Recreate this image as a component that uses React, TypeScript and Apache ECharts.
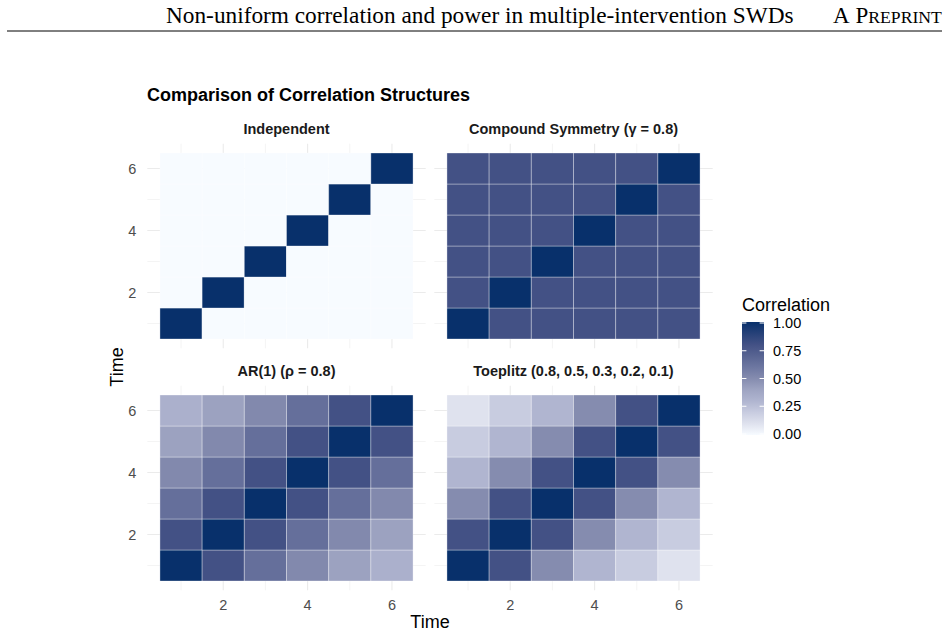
import React, { useEffect, useRef } from 'react';
import * as echarts from 'echarts';

// ---------- data ----------
const times = [1, 2, 3, 4, 5, 6];
const majorBreaks = [2, 4, 6];
const minorBreaks = [1, 3, 5];
const legendBreaks = [0, 0.25, 0.5, 0.75, 1];
const legendLabels = ['0.00', '0.25', '0.50', '0.75', '1.00'];

const panelTitles = [
  'Independent',
  'Compound Symmetry (γ = 0.8)',
  'AR(1) (ρ = 0.8)',
  'Toeplitz (0.8, 0.5, 0.3, 0.2, 0.1)',
];

// rows = time (y), columns = time (x)
const independent = [
  [1, 0, 0, 0, 0, 0],
  [0, 1, 0, 0, 0, 0],
  [0, 0, 1, 0, 0, 0],
  [0, 0, 0, 1, 0, 0],
  [0, 0, 0, 0, 1, 0],
  [0, 0, 0, 0, 0, 1],
];
const compoundSymmetry = [
  [1, 0.8, 0.8, 0.8, 0.8, 0.8],
  [0.8, 1, 0.8, 0.8, 0.8, 0.8],
  [0.8, 0.8, 1, 0.8, 0.8, 0.8],
  [0.8, 0.8, 0.8, 1, 0.8, 0.8],
  [0.8, 0.8, 0.8, 0.8, 1, 0.8],
  [0.8, 0.8, 0.8, 0.8, 0.8, 1],
];
const ar1 = [
  [1, 0.8, 0.64, 0.512, 0.41, 0.328],
  [0.8, 1, 0.8, 0.64, 0.512, 0.41],
  [0.64, 0.8, 1, 0.8, 0.64, 0.512],
  [0.512, 0.64, 0.8, 1, 0.8, 0.64],
  [0.41, 0.512, 0.64, 0.8, 1, 0.8],
  [0.328, 0.41, 0.512, 0.64, 0.8, 1],
];
const toeplitz = [
  [1, 0.8, 0.5, 0.3, 0.2, 0.1],
  [0.8, 1, 0.8, 0.5, 0.3, 0.2],
  [0.5, 0.8, 1, 0.8, 0.5, 0.3],
  [0.3, 0.5, 0.8, 1, 0.8, 0.5],
  [0.2, 0.3, 0.5, 0.8, 1, 0.8],
  [0.1, 0.2, 0.3, 0.5, 0.8, 1],
];
const matrices = [independent, compoundSymmetry, ar1, toeplitz];

// ---------- style ----------
const colorStops = [
  '#f7fbff', '#dfe2ee', '#c8cce0', '#b0b5d0', '#9ea4c2', '#858caf',
  '#6d77a1', '#586492', '#435185', '#264178', '#08306b',
];
const SANS = '"Liberation Sans", Arial, Helvetica, sans-serif';
const SERIF = '"Liberation Serif", "Times New Roman", serif';

const PW = 278.4;
const PH = 204.6;
const panelPos = [
  { left: 147.3, top: 143.7 },
  { left: 434.3, top: 143.7 },
  { left: 147.3, top: 385.7 },
  { left: 434.3, top: 385.7 },
];

function buildOption() {
  const grid: any[] = [];
  const xAxis: any[] = [];
  const yAxis: any[] = [];
  const series: any[] = [];
  const tileSeries: number[] = [];

  const gridData: number[][] = [];
  majorBreaks.forEach((v) => { gridData.push([v, 0, 1]); gridData.push([v, 1, 1]); });
  minorBreaks.forEach((v) => { gridData.push([v, 0, 0]); gridData.push([v, 1, 0]); });

  panelPos.forEach((p, k) => {
    grid.push({ left: p.left, top: p.top, width: PW, height: PH, containLabel: false });
    const bottomRow = k >= 2;
    const leftCol = k % 2 === 0;
    xAxis.push({
      type: 'value', gridIndex: k, min: 0.2, max: 6.8,
      axisLine: { show: false }, axisTick: { show: false }, splitLine: { show: false },
      axisLabel: {
        show: bottomRow, customValues: majorBreaks, margin: 7,
        color: '#4d4d4d', fontSize: 14.5, fontFamily: SANS,
      },
    });
    yAxis.push({
      type: 'value', gridIndex: k, min: 0.2, max: 6.8,
      axisLine: { show: false }, axisTick: { show: false }, splitLine: { show: false },
      axisLabel: {
        show: leftCol, customValues: majorBreaks, margin: 11,
        color: '#4d4d4d', fontSize: 14.5, fontFamily: SANS,
      },
    });
    series.push({
      type: 'custom', xAxisIndex: k, yAxisIndex: k, z: 1, silent: true,
      data: gridData,
      renderItem: (params: any, api: any) => {
        const v = api.value(0);
        const orient = api.value(1);
        const major = api.value(2);
        const cs = params.coordSys;
        const lw = major ? 1.1 : 0.55;
        if (orient === 0) {
          const px = api.coord([v, 1])[0];
          return { type: 'line', shape: { x1: px, y1: cs.y, x2: px, y2: cs.y + cs.height }, style: { stroke: '#ebebeb', lineWidth: lw } };
        }
        const py = api.coord([1, v])[1];
        return { type: 'line', shape: { x1: cs.x, y1: py, x2: cs.x + cs.width, y2: py }, style: { stroke: '#ebebeb', lineWidth: lw } };
      },
    });
    const m = matrices[k];
    const data: number[][] = [];
    times.forEach((ty, i) => times.forEach((tx, j) => data.push([tx, ty, m[i][j]])));
    tileSeries.push(series.length);
    series.push({
      type: 'custom', xAxisIndex: k, yAxisIndex: k, z: 2, silent: true,
      encode: { x: 0, y: 1 },
      data,
      renderItem: (params: any, api: any) => {
        const x = api.value(0);
        const y = api.value(1);
        const p0 = api.coord([x - 0.5, y + 0.5]);
        const p1 = api.coord([x + 0.5, y - 0.5]);
        return {
          type: 'rect',
          shape: { x: p0[0], y: p0[1], width: p1[0] - p0[0], height: p1[1] - p0[1] },
          style: { fill: api.visual('color'), stroke: 'rgba(255,255,255,0.55)', lineWidth: 0.6 },
        };
      },
    });
  });

  const txt = (text: string, x: number, y: number, o: any = {}) => ({
    type: 'text', x, y, rotation: o.rotation || 0, silent: true,
    style: {
      text, fill: o.fill || '#000',
      fontSize: o.fontSize || 14.5, fontFamily: o.fontFamily || SANS, fontWeight: o.fontWeight || 'normal',
      align: o.align || 'left', textAlign: o.align || 'left',
      verticalAlign: 'middle', textVerticalAlign: 'middle',
    },
  });

  const graphic: any[] = [];
  // page header
  graphic.push(txt('Non-uniform correlation and power in multiple-intervention SWDs', 166, 15.2, { fontSize: 23.3, fontFamily: SERIF }));
  graphic.push(txt('A', 833, 15.2, { fontSize: 23, fontFamily: SERIF }));
  graphic.push(txt('P', 855.4, 15.2, { fontSize: 23, fontFamily: SERIF }));
  graphic.push(txt('REPRINT', 868.2, 17, { fontSize: 17.7, fontFamily: SERIF }));
  graphic.push({ type: 'line', silent: true, shape: { x1: 7, y1: 31, x2: 942, y2: 31 }, style: { stroke: '#000', lineWidth: 1 } });

  // plot title
  graphic.push(txt('Comparison of Correlation Structures', 147, 95, { fontSize: 18, fontWeight: 'bold' }));
  // strips
  panelPos.forEach((p, k) => {
    graphic.push(txt(panelTitles[k], p.left + PW / 2, k < 2 ? 129 : 371, { fontSize: 14.5, fontWeight: 'bold', align: 'center', fill: '#1a1a1a' }));
  });
  // axis titles
  graphic.push(txt('Time', 430, 622, { fontSize: 18, align: 'center' }));
  graphic.push(txt('Time', 117, 367, { fontSize: 18, align: 'center', rotation: Math.PI / 2 }));

  // legend
  const barX = 742, barW = 22, barTop = 322, barBot = 435;
  graphic.push(txt('Correlation', 742, 305, { fontSize: 18 }));
  graphic.push({
    type: 'rect', silent: true,
    shape: { x: barX, y: barTop, width: barW, height: barBot - barTop },
    style: {
      fill: new echarts.graphic.LinearGradient(0, 0, 0, 1,
        colorStops.map((c, i) => ({ offset: 1 - i / (colorStops.length - 1), color: c })).reverse()),
    },
  });
  const v2y = (v: number) => barBot - 1 - v * (barBot - barTop - 2);
  legendBreaks.forEach((v, i) => {
    const y = v2y(v);
    graphic.push({ type: 'line', silent: true, shape: { x1: barX, y1: y, x2: barX + 4.4, y2: y }, style: { stroke: '#fff', lineWidth: 1 } });
    graphic.push({ type: 'line', silent: true, shape: { x1: barX + barW - 4.4, y1: y, x2: barX + barW, y2: y }, style: { stroke: '#fff', lineWidth: 1 } });
    graphic.push(txt(legendLabels[i], 773, y, { fontSize: 14.5 }));
  });

  return {
    animation: false,
    backgroundColor: '#ffffff',
    grid, xAxis, yAxis, series,
    visualMap: {
      type: 'continuous', show: false, min: 0, max: 1, dimension: 2,
      seriesIndex: tileSeries, inRange: { color: colorStops },
    },
    graphic,
  };
}

export default function App() {
  const ref = useRef<HTMLDivElement>(null);
  useEffect(() => {
    if (!ref.current) return;
    const chart = echarts.init(ref.current, null, { renderer: 'svg' });
    chart.setOption(buildOption() as any);
    return () => chart.dispose();
  }, []);
  return (
    <div
      ref={ref}
      style={{ position: 'fixed', left: 0, top: 0, width: 948, height: 636, background: '#fff' }}
    />
  );
}
